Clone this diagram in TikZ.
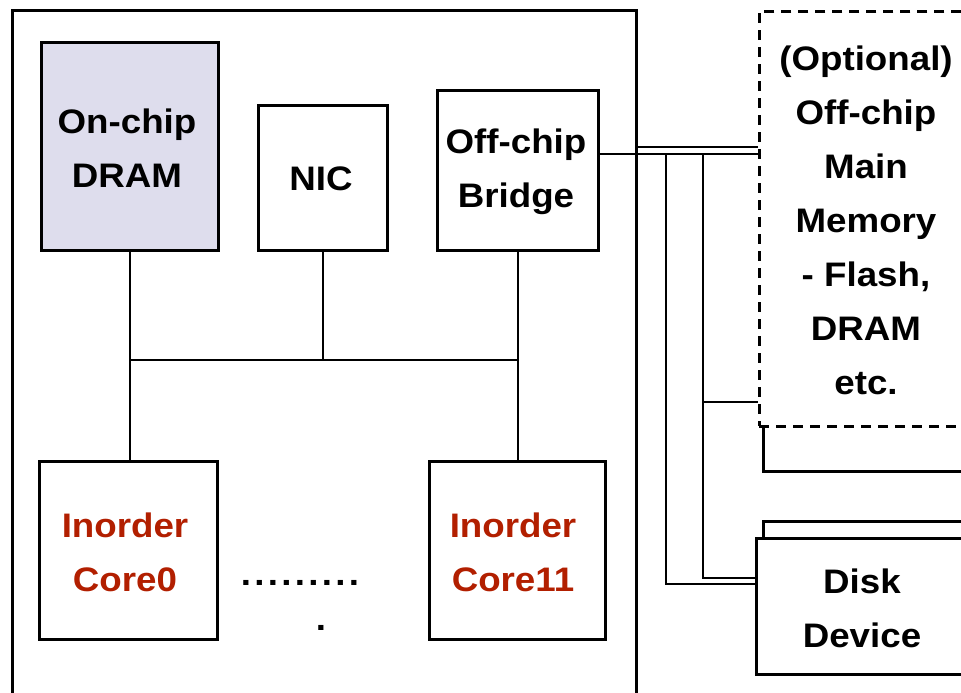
\documentclass[tikz,border=0pt]{standalone}
\usepackage{fontspec}
\newfontfamily\lblfont{Liberation Sans}[FakeStretch=1.08]
\definecolor{dramfill}{RGB}{222,221,237}
\definecolor{corered}{RGB}{178,31,0}
\tikzset{
  boxnode/.style={draw, line width=2.6pt, fill=white, inner sep=0pt, anchor=north west},
  wire/.style={line width=2.4pt},
  lbl/.style={font=\lblfont\bfseries\fontsize{34}{54}\selectfont, align=center, inner sep=0pt},
  redlbl/.style={lbl, text=corered},
  dashbox/.style={boxnode, dash pattern=on 10pt off 7pt}
}
\begin{document}
\begin{tikzpicture}[x=1pt,y=-1pt]
\useasboundingbox (0,0) rectangle (961,693);
\clip (0,0) rectangle (961,693);
% chip outline
\node[boxnode, fill=none, minimum width=624pt, minimum height=711pt] (chip) at (11,9) {};
% on-chip blocks
\node[boxnode, fill=dramfill, minimum width=177pt, minimum height=208pt] (dram) at (40,41) {};
\node[lbl] (dramlbl) at (127,148) {On-chip\\DRAM};
\node[boxnode, minimum width=129pt, minimum height=145pt] (nic) at (257,104) {};
\node[lbl] (niclbl) at (321,179) {NIC};
\node[boxnode, minimum width=161pt, minimum height=160pt] (bridge) at (436,89) {};
\node[lbl] (bridgelbl) at (516,172) {Off-chip\\Bridge};
\node[boxnode, minimum width=178pt, minimum height=178pt] (core0) at (38,460) {};
\node[redlbl] (core0lbl) at (125,552) {Inorder\\Core0};
\node[boxnode, minimum width=176pt, minimum height=178pt] (core11) at (428,460) {};
\node[redlbl] (core11lbl) at (513,552) {Inorder\\Core11};
\node[lbl, anchor=base] (dots) at (300,585) {.\kern3.3pt.\kern3.3pt.\kern3.3pt.\kern3.3pt.\kern3.3pt.\kern3.3pt.\kern3.3pt.\kern3.3pt.};
\node[lbl, anchor=base] (dot) at (321,630) {.};
% on-chip bus
\coordinate (busl) at (128,360);
\coordinate (busr) at (516,360);
\draw[wire] (dram.south) -- (dram.south |- core0.north);
\draw[wire] (bridge.south) -- (bridge.south |- core11.north);
\draw[wire] (nic.south) -- (nic.south |- busl);
\draw[wire] (dram.south |- busl) -- (bridge.south |- busr);
% off-chip memory (stacked)
\node[boxnode, minimum width=240pt, minimum height=170pt] (optback) at (762,300) {};
\node[dashbox, minimum width=242pt, minimum height=415pt] (opt) at (758,10) {};
\node[lbl] (optlbl) at (866,220) {(Optional)\\Off-chip\\Main\\Memory\\- Flash,\\DRAM\\etc.};
% disk (stacked)
\node[boxnode, minimum width=240pt, minimum height=120pt] (diskback) at (762,520) {};
\node[boxnode, minimum width=245pt, minimum height=136pt] (disk) at (755,537) {};
\node[lbl] (disklbl) at (862,608) {Disk\\Device};
% off-chip wiring
\coordinate (t1) at (666,154);
\coordinate (t2) at (703,154);
\draw[wire] (bridge.east |- t1) -- (opt.west |- t1);
\draw[wire] (chip.east |- 0,147) -- (opt.west |- 0,147);
\draw[wire] (t1) -- (666,584) -- (disk.west |- 0,584);
\draw[wire] (t2) -- (703,578) -- (disk.west |- 0,578);
\draw[wire] (703,402) -- (opt.west |- 0,402);
\end{tikzpicture}
\end{document}
